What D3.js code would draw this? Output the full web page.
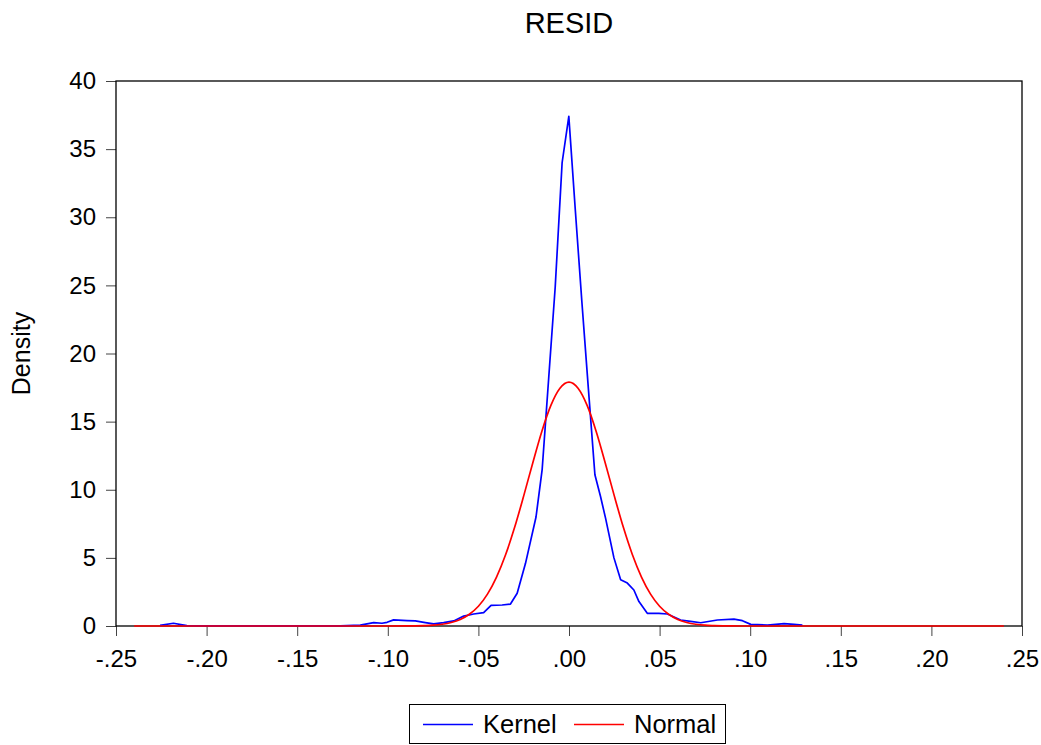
<!DOCTYPE html>
<html>
<head>
<meta charset="utf-8">
<script src="https://cdn.jsdelivr.net/npm/d3@7"></script>
<style>
  body { margin: 0; background: #fff; }
  text { font-family: "Liberation Sans", Arial, sans-serif; }
</style>
</head>
<body>
<script>
// kernel density estimate
const kernelX = [-0.2257, -0.2183, -0.2109, -0.2036, -0.176, -0.1483, -0.1262, -0.1152, -0.1078, -0.1032,
  -0.1004, -0.0968, -0.0894, -0.0848, -0.0793, -0.0747, -0.0692, -0.0636, -0.0581, -0.0526,
  -0.0471, -0.043, -0.0369, -0.0323, -0.0286, -0.024, -0.0182, -0.0148, -0.0112, -0.0076,
  -0.0038, -0.0001, 0.0035, 0.0071, 0.0107, 0.0143, 0.0174, 0.0202, 0.0248, 0.0285,
  0.0322, 0.0358, 0.0386, 0.0432, 0.0496, 0.0543, 0.0616, 0.0671, 0.0727, 0.0819,
  0.091, 0.0957, 0.1003, 0.1095, 0.1187, 0.1242, 0.1288];
const kernelY = [0.05, 0.2, 0.03, 0.01, 0.01, 0.01, 0.01, 0.07, 0.25, 0.2,
  0.27, 0.45, 0.4, 0.37, 0.25, 0.15, 0.25, 0.37, 0.73, 0.88,
  0.98, 1.52, 1.54, 1.61, 2.4, 4.6, 8.0, 11.5, 18.2, 24.9,
  34.0, 37.4, 30.5, 23.8, 17.4, 11.1, 9.5, 7.9, 5.0, 3.4,
  3.15, 2.64, 1.79, 0.93, 0.93, 0.88, 0.44, 0.34, 0.24, 0.44,
  0.51, 0.39, 0.12, 0.07, 0.17, 0.12, 0.07];

// fitted normal density
const normalX = [-0.24, -0.1, -0.09, -0.08, -0.075, -0.07, -0.065, -0.06, -0.055, -0.05,
  -0.045, -0.04, -0.035, -0.03, -0.025, -0.02, -0.015, -0.01, -0.005, 0,
  0.005, 0.01, 0.015, 0.02, 0.025, 0.03, 0.035, 0.04, 0.045, 0.05,
  0.055, 0.06, 0.065, 0.07, 0.075, 0.08, 0.09, 0.1, 0.24];
const normalY = [0, 0, 0.003, 0.03, 0.06, 0.13, 0.26, 0.48, 0.86, 1.45,
  2.34, 3.59, 5.23, 7.24, 9.55, 11.97, 14.28, 16.19, 17.45, 17.9,
  17.45, 16.19, 14.28, 11.97, 9.55, 7.24, 5.23, 3.59, 2.34, 1.45,
  0.86, 0.48, 0.26, 0.13, 0.06, 0.03, 0.003, 0, 0];

const xTicks = [-0.25, -0.2, -0.15, -0.1, -0.05, 0, 0.05, 0.1, 0.15, 0.2, 0.25];
const xTickLabels = ["-.25", "-.20", "-.15", "-.10", "-.05", ".00", ".05", ".10", ".15", ".20", ".25"];
const yTicks = [0, 5, 10, 15, 20, 25, 30, 35, 40];

const W = 1041, H = 745;
const plotL = 116, plotR = 1022, plotT = 81, plotB = 626;

const svg = d3.select("body").append("svg")
  .attr("width", W)
  .attr("height", H);

const x = d3.scaleLinear().domain([-0.25, 0.25]).range([plotL, plotR]);
const y = d3.scaleLinear().domain([0, 40]).range([plotB, plotT]);

// title
svg.append("text")
  .attr("x", (plotL + plotR) / 2)
  .attr("y", 33)
  .attr("text-anchor", "middle")
  .style("font-size", "29px")
  .text("RESID");

// y axis label
svg.append("text")
  .attr("transform", `translate(30,${(plotT + plotB) / 2}) rotate(-90)`)
  .attr("text-anchor", "middle")
  .style("font-size", "25px")
  .text("Density");

// axes (ticks outside)
const xAxis = svg.append("g")
  .attr("transform", `translate(0,${plotB})`)
  .call(d3.axisBottom(x).tickValues(xTicks).tickSize(10).tickPadding(14)
    .tickFormat((d, i) => xTickLabels[i]));

const yAxis = svg.append("g")
  .attr("transform", `translate(${plotL},0)`)
  .call(d3.axisLeft(y).tickValues(yTicks).tickSize(10).tickPadding(10));

[xAxis, yAxis].forEach(g => {
  g.select(".domain").remove();
  g.selectAll(".tick line").attr("stroke", "#444");
  g.selectAll(".tick text")
    .attr("fill", "#000")
    .style("font-size", "24px")
    .style("font-family", "'Liberation Sans', Arial, sans-serif");
});

// frame
svg.append("rect")
  .attr("x", plotL)
  .attr("y", plotT)
  .attr("width", plotR - plotL)
  .attr("height", plotB - plotT)
  .attr("fill", "none")
  .attr("stroke", "#000")
  .attr("stroke-width", 1.3);

const kernel = kernelX.map((v, i) => [v, kernelY[i]]);
const normal = normalX.map((v, i) => [v, normalY[i]]);

svg.append("path")
  .datum(kernel)
  .attr("fill", "none")
  .attr("stroke", "#0000ff")
  .attr("stroke-width", 1.7)
  .attr("stroke-linejoin", "round")
  .attr("d", d3.line().x(d => x(d[0])).y(d => y(d[1])));

svg.append("path")
  .datum(normal)
  .attr("fill", "none")
  .attr("stroke", "#ff0000")
  .attr("stroke-width", 1.7)
  .attr("d", d3.line().curve(d3.curveMonotoneX).x(d => x(d[0])).y(d => y(d[1])));

// legend
const legend = svg.append("g");
legend.append("rect")
  .attr("x", 409.5)
  .attr("y", 704.5)
  .attr("width", 316)
  .attr("height", 39)
  .attr("fill", "#fff")
  .attr("stroke", "#000")
  .attr("stroke-width", 1);

const items = [
  { name: "Kernel", color: "#0000ff", x0: 423, tx: 483 },
  { name: "Normal", color: "#ff0000", x0: 574, tx: 634 }
];
items.forEach(it => {
  legend.append("line")
    .attr("x1", it.x0).attr("x2", it.x0 + 50)
    .attr("y1", 724.5).attr("y2", 724.5)
    .attr("stroke", it.color)
    .attr("stroke-width", 1.5);
  legend.append("text")
    .attr("x", it.tx)
    .attr("y", 733)
    .style("font-size", "25.5px")
    .text(it.name);
});
</script>
</body>
</html>
